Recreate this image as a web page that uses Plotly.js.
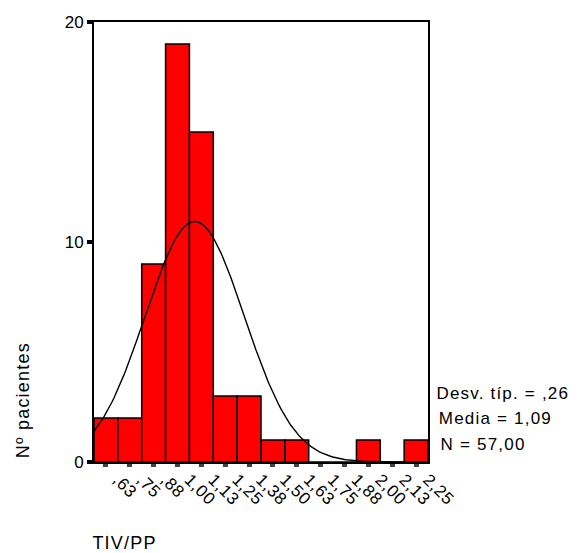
<!DOCTYPE html>
<html>
<head>
<meta charset="utf-8">
<script src="https://cdn.plot.ly/plotly-3.0.1.min.js"></script>
<style>
  html, body { margin: 0; padding: 0; background: #fff; }
  #chart { width: 582px; height: 553px; }
  /* slightly open letter spacing for the annotation texts */
  #chart .annotation-text { letter-spacing: 1.2px; }
  #chart .xtick text { letter-spacing: 0.6px; }
</style>
</head>
<body>
<div id="chart"></div>
<script>
// Histogram of TIV/PP with fitted normal curve
const binCenters = [0.625, 0.75, 0.875, 1.0, 1.125, 1.25, 1.375, 1.5, 1.625, 1.75, 1.875, 2.0, 2.125, 2.25];
const binLabels  = [',63', ',75', ',88', '1,00', '1,13', '1,25', '1,38', '1,50', '1,63', '1,75', '1,88', '2,00', '2,13', '2,25'];
const counts     = [2, 2, 9, 19, 15, 3, 3, 1, 1, 0, 0, 1, 0, 1];
const binWidth = 0.125;

// Summary statistics shown beside the plot
const statSd = 0.26;
const statMean = 1.09;
const statN = 57;
const statLines = ['Desv. típ. = ,26', 'Media = 1,09', 'N = 57,00'];

const xMin = binCenters[0] - binWidth / 2;
const xMax = binCenters[binCenters.length - 1] + binWidth / 2;

// Normal curve scaled to counts per bin
const curveX = [], curveY = [];
const steps = 200;
for (let i = 0; i <= steps; i++) {
  const x = xMin + (xMax - xMin) * i / steps;
  const z = (x - statMean) / statSd;
  curveX.push(x);
  curveY.push(statN * binWidth / (statSd * Math.sqrt(2 * Math.PI)) * Math.exp(-0.5 * z * z));
}

const FONT = 'Liberation Sans, Arial, sans-serif';

const traces = [
  {
    type: 'bar',
    x: binCenters,
    y: counts,
    width: binWidth,
    marker: { color: '#FF0000', line: { color: '#000', width: 1.5 } },
    hoverinfo: 'x+y'
  },
  {
    type: 'scatter',
    mode: 'lines',
    x: curveX,
    y: curveY,
    line: { color: '#000', width: 1.4 },
    hoverinfo: 'skip'
  }
];

const annotations = statLines.map((t, i) => ({
  text: t,
  xref: 'paper', yref: 'paper',
  x: (444 - 94) / 334, y: (462 - (393 + i * 25.5)) / 440,
  xanchor: 'left', yanchor: 'middle',
  showarrow: false,
  font: { family: FONT, size: 17, color: '#000' }
}));

annotations.push({
  text: 'Nº pacientes',
  xref: 'paper', yref: 'paper',
  x: (23 - 94) / 334, y: (462 - 400) / 440,
  xanchor: 'center', yanchor: 'middle',
  textangle: -90,
  showarrow: false,
  font: { family: FONT, size: 18, color: '#000' }
});

annotations.push({
  text: 'TIV/PP',
  xref: 'paper', yref: 'paper',
  x: (94 - 94) / 334, y: (462 - 543) / 440,
  xanchor: 'left', yanchor: 'middle',
  showarrow: false,
  font: { family: FONT, size: 18, color: '#000' }
});

const layout = {
  width: 582,
  height: 553,
  margin: { l: 94, r: 154, t: 22, b: 91 },
  paper_bgcolor: '#fff',
  plot_bgcolor: '#fff',
  showlegend: false,
  bargap: 0,
  font: { family: FONT, color: '#000' },
  xaxis: {
    range: [xMin, xMax],
    tickvals: binCenters,
    ticktext: binLabels,
    tickangle: 45,
    ticks: 'outside',
    ticklen: 3,
    tickwidth: 5,
    tickcolor: '#444',
    ticklabelshift: 12,
    ticklabelstandoff: -4,
    tickfont: { family: FONT, size: 17, color: '#000' },
    showgrid: false,
    zeroline: false,
    showline: true,
    linecolor: '#000',
    linewidth: 2,
    mirror: true
  },
  yaxis: {
    range: [0, 20],
    tickvals: [0, 10, 20],
    ticks: 'outside',
    ticklen: 5,
    tickwidth: 4,
    tickcolor: '#000',
    tickfont: { family: FONT, size: 17, color: '#000' },
    showgrid: false,
    zeroline: false,
    showline: true,
    linecolor: '#000',
    linewidth: 2,
    mirror: true
  },
  annotations: annotations
};

Plotly.newPlot('chart', traces, layout, { displayModeBar: false, staticPlot: true });
</script>
</body>
</html>
